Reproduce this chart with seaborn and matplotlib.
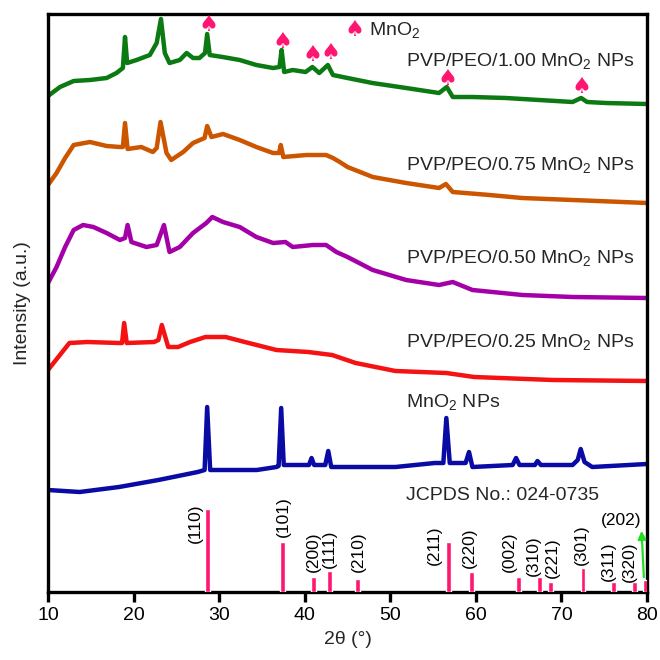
import matplotlib
matplotlib.use("Agg")
import matplotlib.pyplot as plt
import seaborn as sns
import pandas as pd

# ---------------- data (2theta in degrees, intensity in arbitrary units) ----------------
tt_100 = [10, 11.4, 13.0, 14.9, 16.85, 18.0, 18.75, 19.0, 19.25, 20.35, 21.9, 22.7, 23.2, 23.65, 24.2,
          25.4, 26.2, 26.95, 27.7, 28.35, 28.6, 28.9, 30.4, 32.4, 34.35, 36.3, 37.05, 37.3, 37.6, 38.6,
          40.1, 40.9, 41.7, 42.7, 43.3, 45.0, 47.9, 51.85, 55.7, 56.6, 57.3, 59.6, 63.5, 67.4, 71.3,
          72.3, 73.0, 75.2, 80]
I_100 = [496, 505, 511, 512, 514, 519, 524, 555, 529, 532, 537, 549, 573, 539, 529,
         532, 539, 534, 534, 539, 558, 537, 535, 532, 527, 524, 525, 542, 520, 522,
         520, 525, 519, 527, 517, 514, 509, 504, 499, 505, 495, 495, 494, 492, 490,
         494, 490, 489, 488]

tt_075 = [10, 11.0, 12.0, 13.0, 14.9, 16.85, 18.4, 18.75, 19.0, 19.3, 20.9, 22.25, 22.7, 23.15, 23.85,
          24.4, 25.8, 26.95, 28.3, 28.6, 29.1, 30.45, 32.4, 34.35, 36.3, 37.0, 37.2, 37.5, 40.2,
          42.5, 43.3, 44.1, 45.0, 47.95, 51.85, 55.7, 56.5, 57.3, 61.6, 65.4, 71.3, 80]
I_075 = [407, 419, 434, 447, 450, 446, 445, 445, 469, 443, 445, 440, 444, 470, 439,
         432, 440, 449, 454, 466, 455, 458, 452, 445, 439, 439, 447, 435, 437,
         437, 434, 430, 425, 415, 409, 404, 408, 400, 397, 394, 392, 389]

tt_050 = [10, 11.0, 12.0, 13.0, 14.1, 15.3, 16.85, 18.4, 19.0, 19.3, 19.75, 21.5, 22.7, 23.55, 24.2,
          25.4, 26.95, 28.5, 29.2, 30.45, 32.4, 34.35, 36.3, 37.75, 38.6, 40.95, 42.5, 43.7, 45.0,
          47.95, 51.85, 55.7, 57.3, 59.6, 65.45, 71.3, 80]
I_050 = [309, 325, 345, 362, 367, 365, 359, 352, 354, 367, 350, 345, 347, 367, 340,
         345, 359, 369, 375, 370, 365, 355, 349, 350, 345, 347, 347, 340, 335,
         322, 312, 307, 310, 302, 297, 295, 294]

tt_025 = [10, 12.5, 14.6, 18.3, 18.65, 18.9, 19.2, 22.4, 22.9, 23.3, 24.05, 25.2, 26.6, 28.4, 30.75,
          33.0, 36.7, 40.4, 43.2, 45.95, 50.6, 56.55, 59.8, 69.0, 80]
I_025 = [222, 249, 250, 249, 249, 269, 249, 250, 252, 267, 245, 245, 250, 255, 255,
         250, 242, 240, 237, 229, 221, 219, 215, 212, 211]

tt_np = [10, 13.7, 18.3, 22.9, 27.5, 28.3, 28.6, 28.95, 29.35, 34.4, 36.7, 36.95, 37.25, 37.55, 40.5,
         40.8, 41.1, 42.4, 42.75, 43.1, 50.6, 55.2, 56.2, 56.55, 56.95, 57.5, 58.8, 59.2, 59.6,
         64.3, 64.7, 65.1, 66.9, 67.2, 67.6, 71.3, 71.9, 72.25, 72.7, 73.6, 80]
I_np = [102, 100, 105, 112, 120, 122, 185, 122, 122, 122, 125, 126, 184, 127, 127,
        134, 127, 127, 141, 125, 125, 129, 129, 174, 129, 129, 129, 140, 125,
        127, 134, 127, 127, 131, 127, 127, 132, 143, 130, 125, 128]

# JCPDS 024-0735 reference sticks
hkl = ["(110)", "(101)", "(200)", "(111)", "(210)", "(211)", "(220)", "(002)", "(310)",
       "(221)", "(301)", "(311)", "(320)", "(202)"]
ref_tt = [28.66, 37.37, 41.06, 42.89, 46.18, 56.77, 59.52, 64.99, 67.40, 68.73, 72.52, 76.11, 78.58, 79.81]
ref_I = [83, 50, 15, 21, 13, 50, 20, 15, 15, 10, 24, 10, 10, 12]

# MnO2 marker peaks on the 1.00 pattern
spade_tt = [28.8, 37.45, 40.9, 43.0, 56.7, 72.3]
spade_I = [567, 550, 537, 539, 513, 505]

series_labels = ["PVP/PEO/1.00 MnO$_2$ NPs", "PVP/PEO/0.75 MnO$_2$ NPs",
                 "PVP/PEO/0.50 MnO$_2$ NPs", "PVP/PEO/0.25 MnO$_2$ NPs", "MnO$_2$ NPs"]
x_ticks = [10, 20, 30, 40, 50, 60, 70, 80]

# ---------------- style ----------------
sns.set_theme(style="white")
plt.rcParams["font.family"] = ["Liberation Sans", "DejaVu Sans"]
plt.rcParams["mathtext.fontset"] = "custom"
plt.rcParams["mathtext.rm"] = "Liberation Sans"
plt.rcParams["mathtext.default"] = "regular"

colors = ["#0B7A12", "#CC5500", "#A400A8", "#F41212", "#0A0AA4"]
pink = "#FF1670"

fig = plt.figure(figsize=(6.6, 6.6), dpi=100)
ax = fig.add_axes([48 / 660, 68 / 660, 599 / 660, 578 / 660])

curves = [(tt_100, I_100), (tt_075, I_075), (tt_050, I_050), (tt_025, I_025), (tt_np, I_np)]
for (xx, yy), c in zip(curves, colors):
    df = pd.DataFrame({"tt": xx, "I": yy})
    sns.lineplot(data=df, x="tt", y="I", color=c, lw=3.2, sort=False, estimator=None, ax=ax)

ax.bar(ref_tt, ref_I, width=0.55, color=pink, zorder=3)

# hkl labels
lab_pos = [(27.2, 69), (37.5, 75), (41.0, 40), (42.9, 43), (46.3, 40), (55.2, 47), (59.3, 44.5),
           (63.95, 40), (66.7, 36), (69.0, 34.5), (72.3, 47), (75.5, 31), (77.95, 30)]
for lbl, (px, py) in zip(hkl[:-1], lab_pos):
    ax.text(px, py, lbl, rotation=90, ha="center", va="center", fontsize=12.5, color="black")
ax.text(77.0, 71, hkl[-1], ha="center", va="center", fontsize=12.5, color="black")
ax.annotate("", xy=(79.35, 64), xytext=(79.65, 12),
            arrowprops=dict(arrowstyle="-|>", color="#22DD22", lw=1.6, mutation_scale=12))

# spade markers
for sx, sy in zip(spade_tt, spade_I):
    ax.text(sx, sy, "\u2660", ha="center", va="center", fontsize=16, color=pink,
            family="DejaVu Sans")
ax.text(45.8, 562, "\u2660", ha="center", va="center", fontsize=16, color=pink, family="DejaVu Sans")
ax.text(47.5, 562, "MnO$_2$", ha="left", va="center", fontsize=14)

# series labels
lab_y = [531, 427, 334, 250]
for t, yv in zip(series_labels[:4], lab_y):
    ax.text(78.5, yv, t, ha="right", va="center", fontsize=14)
ax.text(51.8, 190, series_labels[4], ha="left", va="center", fontsize=14)
ax.text(51.8, 97, "JCPDS No.: 024-0735", ha="left", va="center", fontsize=14)

ax.set_xlim(10, 80)
ax.set_ylim(0, 578)
ax.set_xticks(x_ticks)
ax.set_yticks([])
ax.tick_params(axis="x", direction="out", length=7, width=2.4, labelsize=14, pad=4,
               bottom=True, colors="black")
for s in ax.spines.values():
    s.set_linewidth(2.4)
    s.set_color("black")
ax.set_xlabel("2\u03b8 (\u00b0)", fontsize=14, labelpad=5)
ax.set_ylabel("Intensity (a.u.)", fontsize=14, labelpad=12)

fig.savefig("out.png", dpi=100)
